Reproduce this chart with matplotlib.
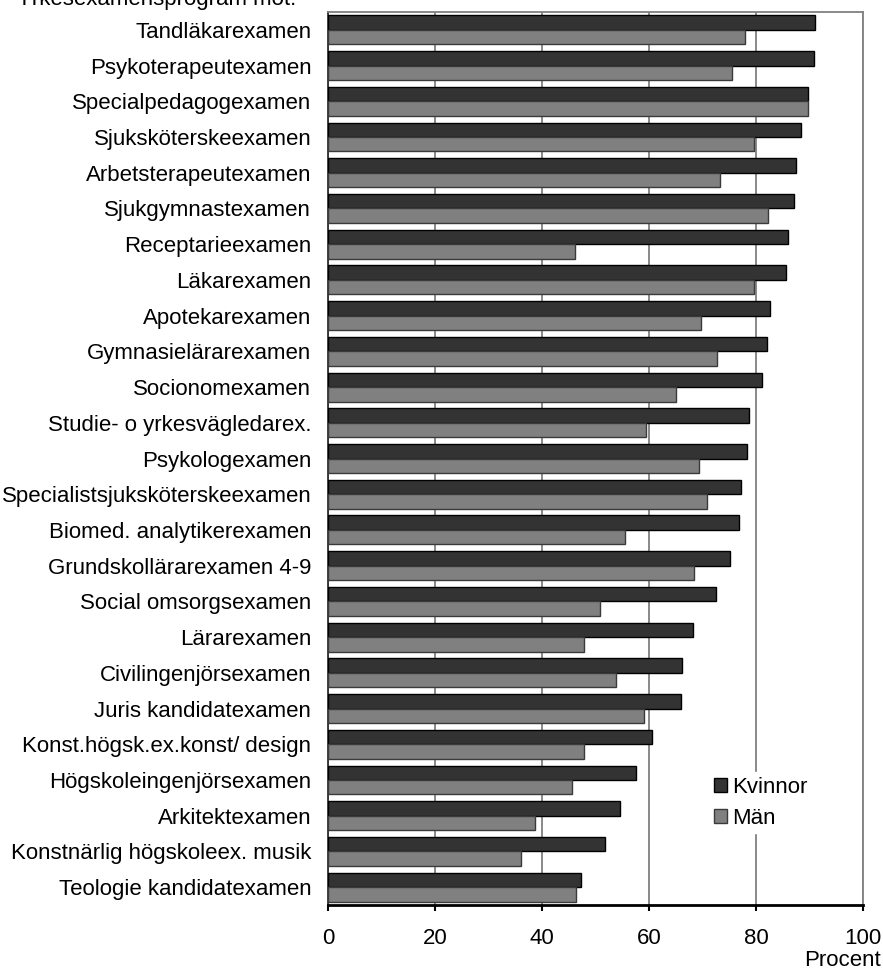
import matplotlib
matplotlib.use("Agg")
import matplotlib.pyplot as plt
import numpy as np
from matplotlib.patches import Patch

plt.rcParams['font.family'] = ['Liberation Sans', 'DejaVu Sans']

# Data (percent)
program = [
    "Tandläkarexamen", "Psykoterapeutexamen", "Specialpedagogexamen",
    "Sjuksköterskeexamen", "Arbetsterapeutexamen", "Sjukgymnastexamen",
    "Receptarieexamen", "Läkarexamen", "Apotekarexamen",
    "Gymnasielärarexamen", "Socionomexamen", "Studie- o yrkesvägledarex.",
    "Psykologexamen", "Specialistsjuksköterskeexamen",
    "Biomed. analytikerexamen", "Grundskollärarexamen 4-9",
    "Social omsorgsexamen", "Lärarexamen", "Civilingenjörsexamen",
    "Juris kandidatexamen", "Konst.högsk.ex.konst/ design",
    "Högskoleingenjörsexamen", "Arkitektexamen",
    "Konstnärlig högskoleex. musik", "Teologie kandidatexamen",
]
kvinnor = [91.1, 90.9, 89.7, 88.5, 87.4, 87.1, 86.0, 85.6, 82.7,
           82.1, 81.2, 78.7, 78.3, 77.2, 76.8, 75.1, 72.6, 68.3,
           66.2, 65.9, 60.5, 57.5, 54.5, 51.7, 47.2]
man = [77.9, 75.6, 89.7, 79.7, 73.2, 82.3, 46.2, 79.7, 69.8,
       72.8, 65.0, 59.5, 69.4, 70.8, 55.6, 68.5, 50.8, 47.9,
       53.9, 59.1, 47.9, 45.7, 38.6, 36.1, 46.4]
xticks = [0, 20, 40, 60, 80, 100]

W, H = 883, 973
fs = 16
fig = plt.figure(figsize=(W / 100, H / 100), dpi=100)
ax = fig.add_axes([328 / W, 1 - 905 / H, (863 - 328) / W, (905 - 12) / H])

y = np.arange(len(program))
h = 0.405
ax.barh(y - h / 2, kvinnor, height=h, color='#333333', edgecolor='black',
        linewidth=1, zorder=3)
ax.barh(y + h / 2, man, height=h, color='#808080', edgecolor='#3a3a3a',
        linewidth=1, zorder=3)

ax.set_xlim(0, 100)
ax.set_ylim(len(program) - 0.5, -0.5)
ax.set_xticks(xticks)
ax.set_yticks(y)
ax.set_yticklabels(program)
ax.tick_params(axis='y', length=0, pad=12, labelsize=fs)
ax.tick_params(axis='x', direction='out', length=4.5, width=1.5, pad=12,
               labelsize=fs)

ax.grid(axis='x', color='#808080', linewidth=1.3, zorder=0)
ax.set_axisbelow(True)
for side in ['top', 'right']:
    ax.spines[side].set_color('#808080')
    ax.spines[side].set_linewidth(1.3)
ax.spines['left'].set_color('#303030')
ax.spines['left'].set_linewidth(1.3)
ax.spines['bottom'].set_color('black')
ax.spines['bottom'].set_linewidth(2)

handles = [Patch(facecolor='#333333', edgecolor='black', label='Kvinnor'),
           Patch(facecolor='#808080', edgecolor='#3a3a3a', label='Män')]
leg = ax.legend(handles=handles, loc='upper left',
                bbox_to_anchor=(698 / W, 1 - 761 / H),
                bbox_transform=fig.transFigure, fontsize=fs,
                frameon=True, facecolor='white', edgecolor='white',
                framealpha=1, fancybox=False, handlelength=0.6,
                handleheight=0.6, handletextpad=0.25, labelspacing=0.45,
                borderpad=0.2)
leg.set_zorder(5)

fig.text(17 / W, 1 - 5 / H, "Yrkesexamensprogram mot:", fontsize=fs,
         ha='left', va='baseline')
fig.text(881 / W, 1 - 961 / H, "Procent", fontsize=fs,
         ha='right', va='center')

fig.savefig("out.png", dpi=100)
